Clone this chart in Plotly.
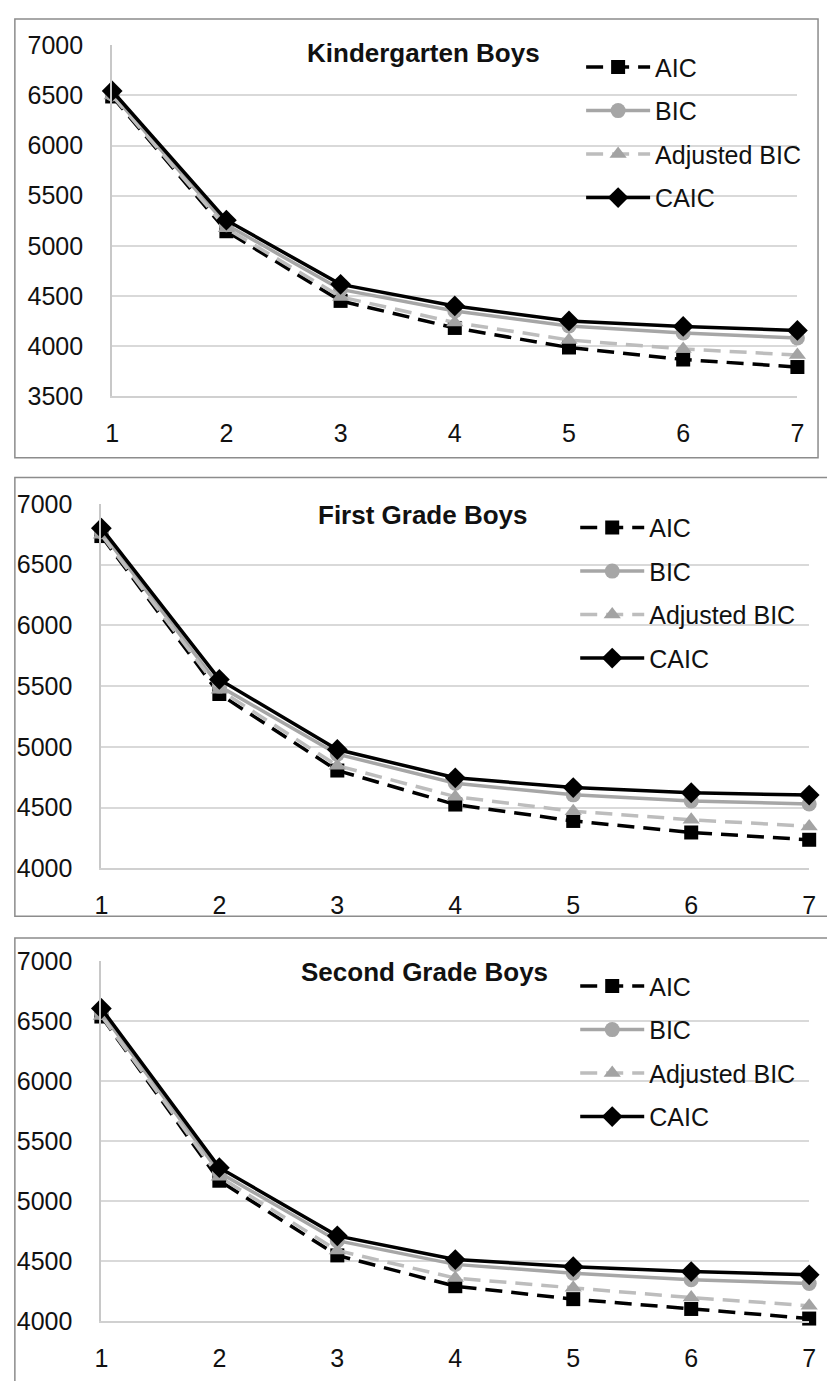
import plotly.graph_objects as go

W, H = 827, 1381

x_vals = [1, 2, 3, 4, 5, 6, 7]
series_names = ["AIC", "BIC", "Adjusted BIC", "CAIC"]
panel_titles = ["Kindergarten Boys", "First Grade Boys", "Second Grade Boys"]

k_aic = [6490, 5145, 4450, 4180, 3985, 3865, 3790]
k_bic = [6515, 5210, 4565, 4350, 4200, 4130, 4080]
k_adj = [6500, 5175, 4490, 4235, 4060, 3970, 3910]
k_caic = [6545, 5255, 4615, 4400, 4250, 4195, 4155]

f_aic = [6735, 5435, 4805, 4525, 4390, 4295, 4235]
f_bic = [6770, 5500, 4940, 4700, 4605, 4555, 4530]
f_adj = [6745, 5470, 4845, 4590, 4470, 4400, 4345]
f_caic = [6800, 5555, 4978, 4745, 4665, 4622, 4603]

s_aic = [6540, 5170, 4547, 4290, 4182, 4100, 4020]
s_bic = [6575, 5238, 4670, 4472, 4398, 4344, 4312]
s_adj = [6545, 5203, 4588, 4358, 4276, 4195, 4127]
s_caic = [6607, 5279, 4710, 4512, 4453, 4412, 4385]

panels = [
    [k_aic, k_bic, k_adj, k_caic],
    [f_aic, f_bic, f_adj, f_caic],
    [s_aic, s_bic, s_adj, s_caic],
]

y_ranges = [[3500, 7000], [4000, 7000], [4000, 7000]]

# pixel geometry (from top-left)
x_px = [(107, 804), (96, 816), (96, 816)]
y_px = [(32, 390), (500, 872), (967, 1334)]
frames = [(8, 5, 825, 453), (8, 473, 840, 921), (8, 943, 840, 1400)]
title_px = [(424, 40), (423, 511), (425, 978)]
legend_px = [(584, 31), (578, 501), (578, 969)]

styles = [
    dict(line=dict(color="#000000", width=3.5, dash="17px,9px"),
         marker=dict(symbol="square", size=14, color="#000000")),
    dict(line=dict(color="#a6a6a6", width=3.5),
         marker=dict(symbol="circle", size=15, color="#a6a6a6")),
    dict(line=dict(color="#bdbdbd", width=3.5, dash="17px,9px"),
         marker=dict(symbol="triangle-up", size=15, color="#a3a3a3")),
    dict(line=dict(color="#000000", width=3.5),
         marker=dict(symbol="diamond", size=16, color="#000000")),
]

FONT = "Liberation Sans, Arial, sans-serif"

fig = go.Figure()

def px2paper_x(p):
    return p / W

def px2paper_y(p):
    return 1 - p / H

layout = dict(
    width=W, height=H,
    margin=dict(l=0, r=0, t=0, b=0),
    paper_bgcolor="white", plot_bgcolor="white",
    font=dict(family=FONT, size=25, color="#111111"),
    shapes=[], annotations=[],
)

legend_keys = ["legend", "legend2", "legend3"]

for i, data in enumerate(panels):
    xa = "xaxis" if i == 0 else f"xaxis{i+1}"
    ya = "yaxis" if i == 0 else f"yaxis{i+1}"
    xr = "x" if i == 0 else f"x{i+1}"
    yr = "y" if i == 0 else f"y{i+1}"
    for j, (name, vals) in enumerate(zip(series_names, data)):
        fig.add_trace(go.Scatter(
            x=x_vals, y=vals, name=name, mode="lines+markers",
            xaxis=xr, yaxis=yr, cliponaxis=False,
            line=styles[j]["line"], marker=styles[j]["marker"],
            legend=legend_keys[i], legendgroup=f"p{i}_{j}",
            showlegend=True,
        ))
    x0, x1 = x_px[i]
    y0, y1 = y_px[i]
    layout[xa] = dict(
        domain=[px2paper_x(x0), px2paper_x(x1)], range=[1, 7],
        anchor=yr, tickvals=x_vals, ticks="", showgrid=False, zeroline=False,
        showline=True, linecolor="#d0d0d0", linewidth=2,
        ticklabelstandoff=14, tickfont=dict(size=25, color="#111111"),
        fixedrange=True,
    )
    layout[ya] = dict(
        domain=[px2paper_y(y1), px2paper_y(y0)], range=y_ranges[i],
        anchor=xr, dtick=500, tick0=0, ticks="", showgrid=True,
        gridcolor="#d9d9d9", gridwidth=2, zeroline=False,
        showline=True, linecolor="#c8c8c8", linewidth=2,
        ticklabelstandoff=22, tickfont=dict(size=25, color="#111111"),
        fixedrange=True,
    )
    fx0, fy0, fx1, fy1 = frames[i]
    layout["shapes"].append(dict(
        type="rect", xref="paper", yref="paper",
        x0=px2paper_x(fx0), x1=px2paper_x(fx1),
        y0=px2paper_y(fy1), y1=px2paper_y(fy0),
        line=dict(color="#8c8c8c", width=1.5), layer="below",
    ))
    tx, ty = title_px[i]
    layout["annotations"].append(dict(
        text=f"<b>{panel_titles[i]}</b>", xref="paper", yref="paper",
        x=px2paper_x(tx), y=px2paper_y(ty), xanchor="center", yanchor="middle",
        showarrow=False, font=dict(family=FONT, size=26, color="#111111"),
    ))
    lx, ly = legend_px[i]
    layout[legend_keys[i]] = dict(
        x=px2paper_x(lx), y=px2paper_y(ly), xanchor="left", yanchor="top",
        bgcolor="rgba(0,0,0,0)", borderwidth=0,
        font=dict(family=FONT, size=25, color="#111111"),
        traceorder="grouped", tracegroupgap=8, itemwidth=64,
    )

fig.update_layout(**layout)
fig.write_html(
    "out.html",
    config={"displayModeBar": False},
    post_script="document.body.style.margin='0';document.body.style.padding='0';",
)
